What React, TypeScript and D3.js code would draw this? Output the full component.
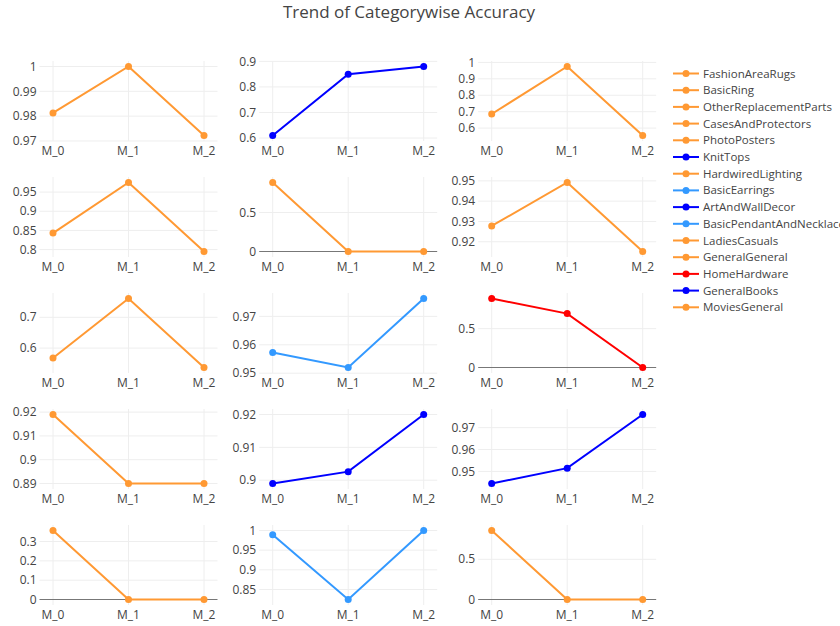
import * as d3 from "d3";

const models = ["M_0", "M_1", "M_2"];

// legend / trace order (subplots are filled column by column)
const categories = [
  "FashionAreaRugs",
  "BasicRing",
  "OtherReplacementParts",
  "CasesAndProtectors",
  "PhotoPosters",
  "KnitTops",
  "HardwiredLighting",
  "BasicEarrings",
  "ArtAndWallDecor",
  "BasicPendantAndNecklace",
  "LadiesCasuals",
  "GeneralGeneral",
  "HomeHardware",
  "GeneralBooks",
  "MoviesGeneral",
];

const accuracy = [
  [0.9813, 1.0, 0.9722],
  [0.843, 0.975, 0.795],
  [0.568, 0.761, 0.537],
  [0.919, 0.89, 0.89],
  [0.357, 0, 0],
  [0.61, 0.85, 0.88],
  [0.885, 0, 0],
  [0.9573, 0.952, 0.9763],
  [0.899, 0.9026, 0.92],
  [0.989, 0.8245, 1.0],
  [0.686, 0.975, 0.555],
  [0.9278, 0.9492, 0.9152],
  [0.888, 0.694, 0],
  [0.9445, 0.9515, 0.976],
  [0.858, 0, 0],
];

const colors = [
  "#ff9933", "#ff9933", "#ff9933", "#ff9933", "#ff9933",
  "#0000ff", "#ff9933", "#3399ff", "#0000ff", "#3399ff",
  "#ff9933", "#ff9933", "#ff0000", "#0000ff", "#ff9933",
];

const yTicks = [
  [0.97, 0.98, 0.99, 1],
  [0.8, 0.85, 0.9, 0.95],
  [0.6, 0.7],
  [0.89, 0.9, 0.91, 0.92],
  [0, 0.1, 0.2, 0.3],
  [0.6, 0.7, 0.8, 0.9],
  [0, 0.5],
  [0.95, 0.96, 0.97],
  [0.9, 0.91, 0.92],
  [0.85, 0.9, 0.95, 1],
  [0.6, 0.7, 0.8, 0.9, 1],
  [0.92, 0.93, 0.94, 0.95],
  [0, 0.5],
  [0.95, 0.96, 0.97],
  [0, 0.5],
];

const W = 840;
const H = 626;
const colLeft = [39.5, 259.2, 478.2];
const plotW = 178;
const rowBottom = [141, 257, 373, 489, 605];
const plotH = 80;
const pad = 5.5;
const font = "'Open Sans', 'Noto Sans', sans-serif";
const fmt = d3.format("~g");

function Panel({ idx }: { idx: number }) {
  const col = Math.floor(idx / 5);
  const row = idx % 5;
  const left = colLeft[col];
  const right = left + plotW;
  const bottom = rowBottom[row];
  const top = bottom - plotH;
  const vals = accuracy[idx];
  const color = colors[idx];

  const x = d3.scalePoint<string>().domain(models).range([left + 13.5, right - 13.5]);
  const [lo, hi] = d3.extent(vals) as [number, number];
  const y = d3.scaleLinear().domain([lo, hi]).range([bottom - pad, top + pad]);
  const ticks = yTicks[idx].filter((t) => y(t) >= top - 1.5 && y(t) <= bottom + 1.5);
  const hasZero = lo <= 0 && y(0) <= bottom + 1.5;

  const line = d3
    .line<number>()
    .x((_, i) => x(models[i])!)
    .y((d) => y(d));

  return (
    <g>
      {models.map((m) => (
        <line key={m} x1={x(m)} x2={x(m)} y1={top} y2={bottom} stroke="#eee" strokeWidth={1} />
      ))}
      {ticks
        .filter((t) => !(hasZero && t === 0))
        .map((t) => (
          <line key={t} x1={left} x2={right} y1={y(t)} y2={y(t)} stroke="#eee" strokeWidth={1} />
        ))}
      {hasZero && (
        <line x1={left} x2={right} y1={y(0)} y2={y(0)} stroke="#777" strokeWidth={1} />
      )}
      {ticks.map((t) => (
        <text
          key={"l" + t}
          x={left - 3}
          y={y(t)}
          dy="0.35em"
          textAnchor="end"
          fontSize={12}
          fill="#444"
          fontFamily={font}
        >
          {fmt(t)}
        </text>
      ))}
      {models.map((m) => (
        <text
          key={"x" + m}
          x={x(m)}
          y={bottom + 13.5}
          textAnchor="middle"
          fontSize={12}
          fill="#444"
          fontFamily={font}
        >
          {m}
        </text>
      ))}
      <path d={line(vals) ?? ""} fill="none" stroke={color} strokeWidth={2} />
      {vals.map((v, i) => (
        <circle key={i} cx={x(models[i])} cy={y(v)} r={3.5} fill={color} />
      ))}
    </g>
  );
}

export default function App() {
  const legendY = d3.scaleLinear().domain([0, 1]).range([73.5, 90.2]);
  return (
    <svg
      width={W}
      height={H}
      viewBox={`0 0 ${W} ${H}`}
      style={{ position: "absolute", left: 0, top: 0, background: "#fff", overflow: "hidden" }}
    >
      <rect width={W} height={H} fill="#fff" />
      <text x={409} y={18} textAnchor="middle" fontSize={17} fill="#444" fontFamily={font}>
        Trend of Categorywise Accuracy
      </text>
      {categories.map((_, i) => (
        <Panel key={i} idx={i} />
      ))}
      {categories.map((c, i) => {
        const ly = legendY(i);
        return (
          <g key={c}>
            <line x1={673} x2={699} y1={ly} y2={ly} stroke={colors[i]} strokeWidth={2} />
            <circle cx={686} cy={ly} r={3.5} fill={colors[i]} />
            <text x={703} y={ly} dy="0.35em" fontSize={11.5} fill="#444" fontFamily={font}>
              {c}
            </text>
          </g>
        );
      })}
    </svg>
  );
}
